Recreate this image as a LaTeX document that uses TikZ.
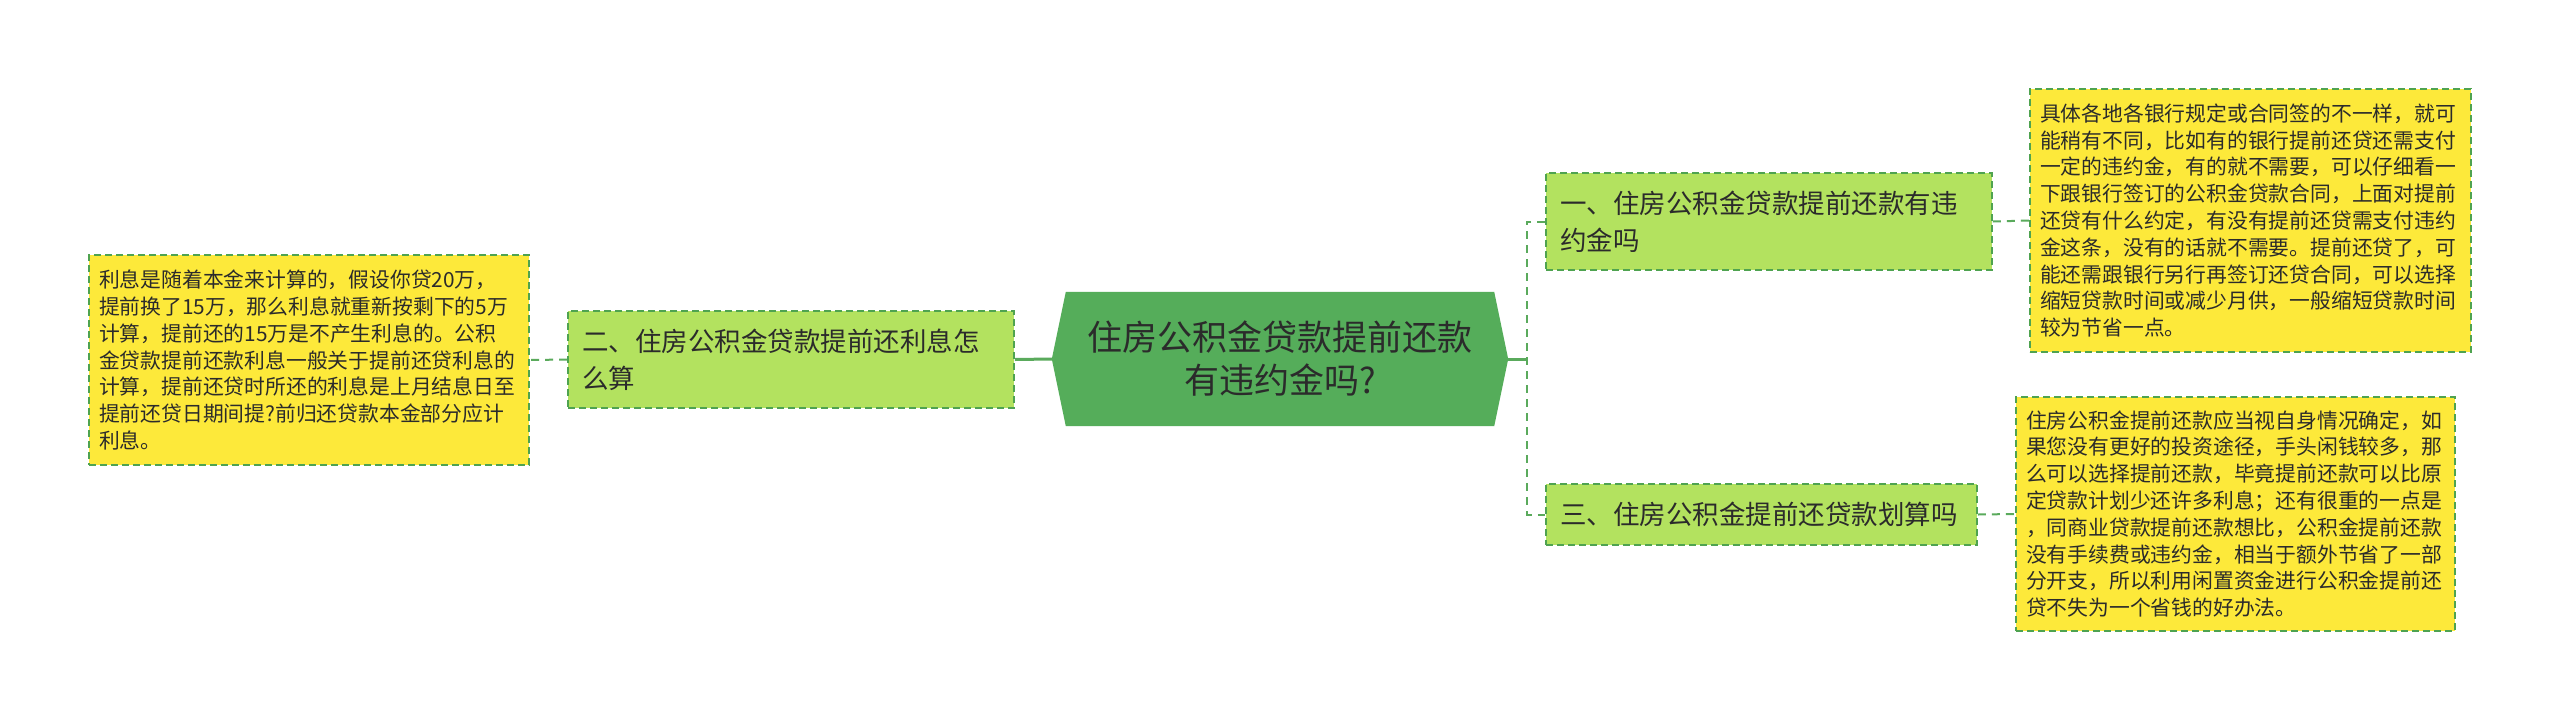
\documentclass[tikz,border=0pt]{standalone}
\usepackage{fontspec}
\setmainfont{Noto Sans CJK SC}
\usetikzlibrary{calc}
\definecolor{cfill}{HTML}{55AD5A}
\definecolor{lfill}{HTML}{B3E25F}
\definecolor{yfill}{HTML}{FDE93A}
\definecolor{bdr}{HTML}{4FA350}
\definecolor{lnk}{HTML}{5AAA5C}
\definecolor{txt}{HTML}{2B2B2B}
\tikzset{
  x=1pt, y=-1pt,
  leafbox/.style={draw=bdr, line width=1.6pt, dash pattern=on 7pt off 4pt, fill=yfill,
    text=txt, align=left, inner sep=0pt, font=\fontsize{20.8}{26.8}\selectfont},
  topicbox/.style={draw=bdr, line width=1.6pt, dash pattern=on 7pt off 4pt, fill=lfill,
    text=txt, align=left, inner sep=0pt, font=\fontsize{26.5}{36.7}\selectfont},
  solidlink/.style={draw=lnk, line width=3pt},
  dashlink/.style={draw=lnk, line width=2pt, dash pattern=on 8pt off 6pt},
}
\begin{document}
\begin{tikzpicture}
\useasboundingbox[fill=white] (0,0) rectangle (2560,724);
% center node
\node[minimum width=456pt, minimum height=134pt, inner sep=0pt] (c) at (1280,359) {};
\fill[cfill] ($(c.north west)+(14pt,0)$) -- ($(c.north east)+(-14pt,0)$) -- (c.east)
  -- ($(c.south east)+(-14pt,0)$) -- ($(c.south west)+(14pt,0)$) -- (c.west) -- cycle;
\node[text=txt, align=center, font=\fontsize{35}{43}\selectfont] at (c.center) {住房公积金贷款提前还款\\有违约金吗?};
% level-1 topics
\node[topicbox, minimum width=446pt, minimum height=97pt, text width=418pt] (l) at (791,359.5)
  {二、住房公积金贷款提前还利息怎\\么算};
\node[topicbox, minimum width=446pt, minimum height=97pt, text width=418pt] (r1) at (1769,221.5)
  {一、住房公积金贷款提前还款有违\\约金吗};
\node[topicbox, minimum width=431pt, minimum height=61pt, text width=403pt] (r3) at (1761.5,514.5)
  {三、住房公积金提前还贷款划算吗};
% leaves
\node[leafbox, minimum width=440pt, minimum height=210pt, text width=420pt] (ly) at (309,360)
  {利息是随着本金来计算的，假设你贷20万，\\提前换了15万，那么利息就重新按剩下的5万\\计算，提前还的15万是不产生利息的。公积\\金贷款提前还款利息一般关于提前还贷利息的\\计算，提前还贷时所还的利息是上月结息日至\\提前还贷日期间提?前归还贷款本金部分应计\\利息。};
\node[leafbox, minimum width=441pt, minimum height=263pt, text width=421pt] (ry1) at (2250.5,220.5)
  {具体各地各银行规定或合同签的不一样，就可\\能稍有不同，比如有的银行提前还贷还需支付\\一定的违约金，有的就不需要，可以仔细看一\\下跟银行签订的公积金贷款合同，上面对提前\\还贷有什么约定，有没有提前还贷需支付违约\\金这条，没有的话就不需要。提前还贷了，可\\能还需跟银行另行再签订还贷合同，可以选择\\缩短贷款时间或减少月供，一般缩短贷款时间\\较为节省一点。};
\node[leafbox, minimum width=439pt, minimum height=234pt, text width=419pt] (ry3) at (2235.5,514)
  {住房公积金提前还款应当视自身情况确定，如\\果您没有更好的投资途径，手头闲钱较多，那\\么可以选择提前还款，毕竟提前还款可以比原\\定贷款计划少还许多利息；还有很重的一点是\\，同商业贷款提前还款想比，公积金提前还款\\没有手续费或违约金，相当于额外节省了一部\\分开支，所以利用闲置资金进行公积金提前还\\贷不失为一个省钱的好办法。};
% connectors
\coordinate (j) at (1527,359);
\draw[solidlink] (c.west) -- (l.east);
\draw[solidlink] (c.east) -- (j);
\draw[dashlink] (r1.west) -| (j) |- (r3.west);
\draw[dashlink] (l.west) -- (ly.east);
\draw[dashlink] (r1.east) -- (ry1.west);
\draw[dashlink] (r3.east) -- (ry3.west);
\end{tikzpicture}
\end{document}
